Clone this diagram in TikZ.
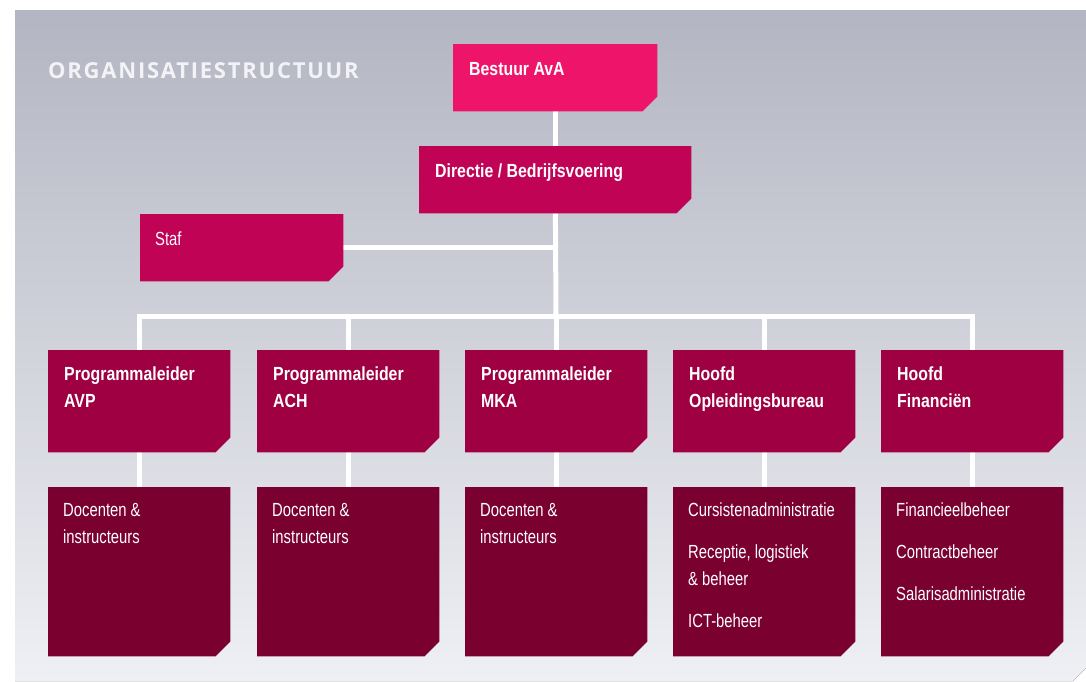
\documentclass[tikz,border=0pt]{standalone}
\usepackage{fontspec}
\setmainfont{Liberation Sans}
\newfontfamily\condreg{Liberation Sans}[FakeStretch=0.78]
\newfontfamily\condbold{Liberation Sans Bold}[FakeStretch=0.835]
\newfontfamily\titlefont{Open Sans}[LetterSpace=8]
\usetikzlibrary{calc,backgrounds}

\definecolor{bgtop}{HTML}{B3B5C2}
\definecolor{bgbot}{HTML}{EFF0F4}
\definecolor{titelc}{HTML}{F3F3F7}
\definecolor{bestuurc}{HTML}{EE1469}
\definecolor{directiec}{HTML}{C10355}
\definecolor{leiderc}{HTML}{9E0042}
\definecolor{afdc}{HTML}{7A0030}

\tikzset{
  orgbox/.style={rectangle, inner sep=0pt, anchor=north west},
  headbox/.style={orgbox, minimum width=182pt, minimum height=102pt},
  subbox/.style={orgbox, minimum width=182pt, minimum height=169pt},
  boldlbl/.style={text=white, inner sep=0pt, align=left, font=\condbold\fontsize{19}{27}\selectfont},
  reglbl/.style={text=white, inner sep=0pt, align=left, font=\condreg\fontsize{19}{27}\selectfont},
  link/.style={draw=white, line width=5pt}
}
% box with the lower right corner cut off
\newcommand{\cutbox}[2]{\fill[#2] (#1.north west) -- (#1.north east) -- ([yshift=15pt]#1.south east) -- ([xshift=-15pt]#1.south east) -- (#1.south west) -- cycle;}

\begin{document}
\begin{tikzpicture}[x=1pt,y=-1pt]
\useasboundingbox (0,0) rectangle (1086,681);

% top of the tree
\node[orgbox, minimum width=204pt, minimum height=67pt] (bestuur) at (453,44) {};
\node[orgbox, minimum width=272pt, minimum height=67pt] (directie) at (419,146) {};
\node[orgbox, minimum width=203pt, minimum height=67pt] (staf) at (140,214) {};
\cutbox{bestuur}{bestuurc}
\cutbox{directie}{directiec}
\cutbox{staf}{directiec}
\node[boldlbl, anchor=base west] (bestuur-t) at ($(bestuur.north west)+(16,31)$) {Bestuur AvA};
\node[boldlbl, anchor=base west] (directie-t) at ($(directie.north west)+(16,31)$) {Directie / Bedrijfsvoering};
\node[reglbl, anchor=base west] (staf-t) at ($(staf.north west)+(15,31)$) {Staf};

\node[text=titelc, inner sep=0pt, anchor=base west, font=\titlefont\bfseries\fontsize{22}{24}\selectfont] (titel) at (48,78) {ORGANISATIESTRUCTUUR};

% leiding en afdelingen
\foreach \n/\x/\t/\s in {avp/48/{Programmaleider\\AVP}/{Docenten \&\\instructeurs},
    ach/257/{Programmaleider\\ACH}/{Docenten \&\\instructeurs},
    mka/465/{Programmaleider\\MKA}/{Docenten \&\\instructeurs},
    opl/673/{Hoofd\\Opleidingsbureau}/{Cursistenadministratie\\[15pt]Receptie, logistiek\\\& beheer\\[15pt]ICT-beheer},
    fin/881/{Hoofd\\Financiën}/{Financieelbeheer\\[15pt]Contractbeheer\\[15pt]Salarisadministratie}}{
  \node[headbox] (\n) at (\x,350) {};
  \node[subbox] (\n-sub) at (\x,487) {};
  \cutbox{\n}{leiderc}
  \cutbox{\n-sub}{afdc}
  \node[boldlbl, anchor=north west] (\n-t) at ($(\n.north west)+(16,17)$) {\t};
  \node[reglbl, anchor=north west] (\n-st) at ($(\n-sub.north west)+(15,16)$) {\s};
}

\coordinate (bar) at (556,316);

\begin{pgfonlayer}{background}
  \fill[top color=bgtop, bottom color=bgbot] (15,10) -- (1086,10) -- (1086,668) -- (1073,681) -- (15,681) -- cycle;
  \draw[link] (bestuur) -- (directie);
  \draw[link] (directie) -- (bar);
  \draw[link] (staf) -- (staf -| bar);
  \draw[link, line cap=rect] (avp |- bar) -- (fin |- bar);
  \foreach \n in {avp,ach,mka,opl,fin}{
    \draw[link] (\n |- bar) -- (\n.north);
    \draw[link] (\n) -- (\n-sub);
  }
\end{pgfonlayer}
\end{tikzpicture}
\end{document}
